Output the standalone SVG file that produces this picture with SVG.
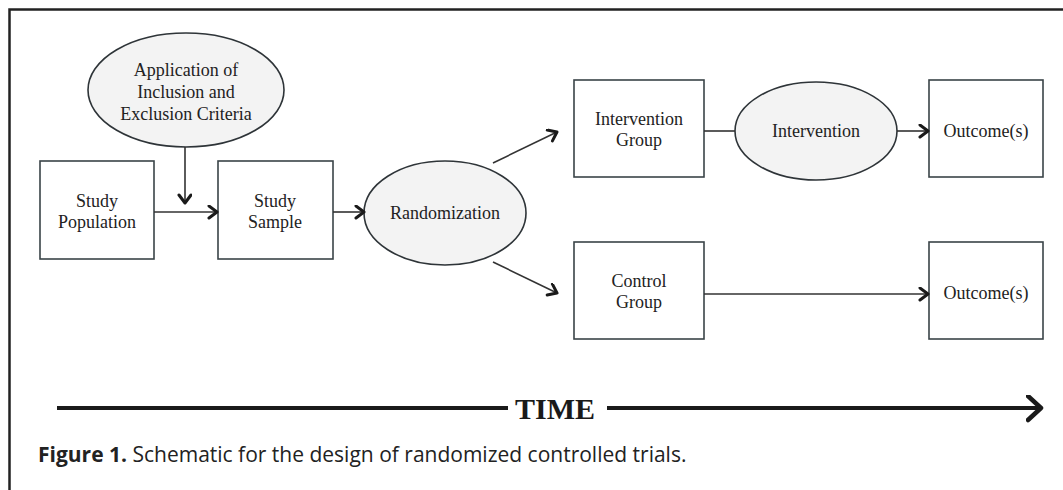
<svg xmlns="http://www.w3.org/2000/svg" width="1063" height="490" viewBox="0 0 1063 490">
  <defs>
    <marker id="chev" markerUnits="userSpaceOnUse" markerWidth="14" markerHeight="16" refX="10" refY="7" orient="auto">
      <path d="M2,1 L10,7 L2,13" fill="none" stroke="#1a1a1a" stroke-width="3" stroke-linecap="round" stroke-linejoin="round"/>
    </marker>
    <marker id="bigchev" markerUnits="userSpaceOnUse" markerWidth="20" markerHeight="30" refX="15" refY="13" orient="auto">
      <path d="M2,1 L15,13 L2,25" fill="none" stroke="#1a1a1a" stroke-width="4.5" stroke-linecap="round" stroke-linejoin="round"/>
    </marker>
  </defs>
  <style>
    .box { fill: #ffffff; stroke: #3a4448; stroke-width: 1.6; }
    .ell { fill: #f3f3f3; stroke: #2e3438; stroke-width: 1.6; }
    .lbl { font-family: "Liberation Serif", "Times New Roman", serif; font-size: 18px; fill: #222; text-anchor: middle; }
    .conn { stroke: #333; stroke-width: 1.6; fill: none; }
    .cap { font-family: "Open Sans", "Noto Sans", sans-serif; font-size: 21px; fill: #222; }
  </style>
  <rect x="0" y="0" width="1063" height="490" fill="#ffffff"/>
  <path d="M9.5,490 L9.5,9.5 L1063,9.5" fill="none" stroke="#222" stroke-width="2.5"/>

  <g id="criteria">
    <ellipse class="ell" cx="186" cy="90" rx="98" ry="57"/>
    <text class="lbl" x="186" y="76">Application of</text>
    <text class="lbl" x="186" y="98">Inclusion and</text>
    <text class="lbl" x="186" y="120">Exclusion Criteria</text>
  </g>
  <g id="population">
    <rect class="box" x="40" y="161" width="114" height="98"/>
    <text class="lbl" x="97" y="207">Study</text>
    <text class="lbl" x="97" y="228">Population</text>
  </g>
  <g id="sample">
    <rect class="box" x="218" y="161" width="115" height="98"/>
    <text class="lbl" x="275" y="207">Study</text>
    <text class="lbl" x="275" y="228">Sample</text>
  </g>
  <g id="randomization">
    <ellipse class="ell" cx="445" cy="213" rx="81" ry="52"/>
    <text class="lbl" x="445" y="219">Randomization</text>
  </g>
  <g id="intervention-group">
    <rect class="box" x="574" y="80" width="130" height="97"/>
    <text class="lbl" x="639" y="125">Intervention</text>
    <text class="lbl" x="639" y="146">Group</text>
  </g>
  <g id="intervention">
    <ellipse class="ell" cx="816" cy="131" rx="81" ry="49"/>
    <text class="lbl" x="816" y="137">Intervention</text>
  </g>
  <g id="outcome-1">
    <rect class="box" x="929" y="80" width="114" height="97"/>
    <text class="lbl" x="986" y="137">Outcome(s)</text>
  </g>
  <g id="control-group">
    <rect class="box" x="574" y="242" width="130" height="97"/>
    <text class="lbl" x="639" y="287">Control</text>
    <text class="lbl" x="639" y="308">Group</text>
  </g>
  <g id="outcome-2">
    <rect class="box" x="929" y="242" width="114" height="97"/>
    <text class="lbl" x="986" y="299">Outcome(s)</text>
  </g>

  <g id="connectors">
    <line class="conn" x1="185" y1="147" x2="185" y2="203" marker-end="url(#chev)"/>
    <line class="conn" x1="154" y1="212" x2="217" y2="212" marker-end="url(#chev)"/>
    <line class="conn" x1="333" y1="212" x2="364" y2="212" marker-end="url(#chev)"/>
    <line class="conn" x1="493" y1="163" x2="557" y2="132" marker-end="url(#chev)"/>
    <line class="conn" x1="493" y1="262" x2="557" y2="293" marker-end="url(#chev)"/>
    <line class="conn" x1="704" y1="131" x2="735" y2="131"/>
    <line class="conn" x1="897" y1="131" x2="928" y2="131" marker-end="url(#chev)"/>
    <line class="conn" x1="704" y1="294" x2="928" y2="294" marker-end="url(#chev)"/>
  </g>

  <g id="time">
    <line x1="57" y1="408" x2="508" y2="408" stroke="#1a1a1a" stroke-width="4"/>
    <text x="555" y="419" font-family="Liberation Serif, Times New Roman, serif" font-size="30" font-weight="bold" fill="#1a1a1a" text-anchor="middle">TIME</text>
    <line x1="607" y1="408" x2="1041" y2="408" stroke="#1a1a1a" stroke-width="4" marker-end="url(#bigchev)"/>
  </g>

  <text class="cap" x="38" y="462"><tspan font-weight="bold">Figure 1.</tspan> Schematic for the design of randomized controlled trials.</text>
</svg>
